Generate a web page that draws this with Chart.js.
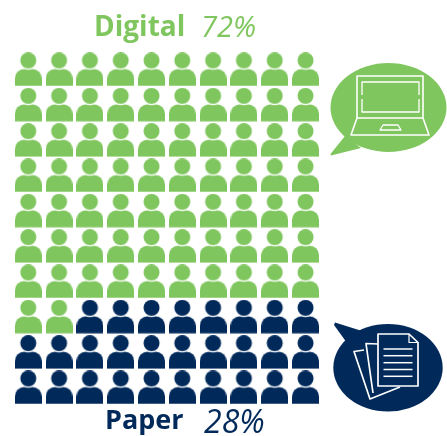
<!DOCTYPE html>
<html lang="en">
<head>
<meta charset="UTF-8">
<title>Digital vs Paper</title>
<script src="https://cdn.jsdelivr.net/npm/chart.js@4/dist/chart.umd.min.js"></script>
<style>
  html, body { margin: 0; padding: 0; background: #fff; overflow: hidden; }
  canvas { display: block; }
</style>
</head>
<body>
<canvas id="chart" width="447" height="436"></canvas>
<script>
// data
const categories = ['Digital', 'Paper'];
const shares = [72, 28];
const colors = ['#80C65F', '#012A5B'];
const columns = 10;

// person icon used as the point style
function personIcon(color) {
  const c = document.createElement('canvas');
  c.width = 27;
  c.height = 34;
  const g = c.getContext('2d');
  g.fillStyle = color;
  g.beginPath();
  g.roundRect(0, 16.5, 27, 17, [9.5, 9.5, 0, 0]);
  g.fill();
  g.globalCompositeOperation = 'destination-out';
  g.beginPath();
  g.arc(13.5, 8, 9.2, 0, Math.PI * 2);
  g.fill();
  g.globalCompositeOperation = 'source-over';
  g.beginPath();
  g.arc(13.5, 8, 8, 0, Math.PI * 2);
  g.fill();
  return c;
}

// fill the grid row by row, top left first
function gridPoints() {
  const sets = [[], []];
  let n = 0;
  shares.forEach((share, s) => {
    for (let i = 0; i < share; i++) {
      sets[s].push({ x: n % columns, y: Math.floor(n / columns) });
      n++;
    }
  });
  return sets;
}

function path(ctx, pts, close) {
  ctx.beginPath();
  pts.forEach((p, i) => i ? ctx.lineTo(p[0], p[1]) : ctx.moveTo(p[0], p[1]));
  if (close) ctx.closePath();
}

function drawLaptop(ctx) {
  ctx.fillStyle = colors[0];
  ctx.beginPath();
  ctx.ellipse(388.5, 107.5, 58, 44.5, 0, 0, Math.PI * 2);
  ctx.fill();
  path(ctx, [[345, 136], [330.5, 154], [331, 155.5], [361, 148]], true);
  ctx.fill();

  ctx.strokeStyle = '#fff';
  ctx.lineJoin = 'round';
  ctx.lineWidth = 1.6;
  path(ctx, [[357, 118], [357, 76], [423, 76], [423, 118]]);
  ctx.stroke();
  ctx.lineWidth = 1.3;
  path(ctx, [[362, 95], [362, 82], [419, 82], [419, 95]]);
  ctx.stroke();
  path(ctx, [[362, 99], [362, 112], [419, 112], [419, 99]]);
  ctx.stroke();
  ctx.lineWidth = 1.6;
  path(ctx, [[357, 118], [423, 118], [429, 135], [351, 135]], true);
  ctx.stroke();
  ctx.lineWidth = 1.3;
  path(ctx, [[380, 130], [383, 125], [398, 125], [401, 130]], true);
  ctx.stroke();
}

function drawPapers(ctx) {
  ctx.fillStyle = colors[1];
  ctx.beginPath();
  ctx.ellipse(388, 367.8, 54.7, 43.8, 0, 0, Math.PI * 2);
  ctx.fill();
  path(ctx, [[347, 343], [334, 325], [335, 322.5], [362, 331]], true);
  ctx.fill();

  ctx.strokeStyle = '#fff';
  ctx.lineJoin = 'round';
  ctx.lineWidth = 1.7;
  // back sheets
  path(ctx, [[364, 350], [354, 351.5], [370, 399], [400, 387]]);
  ctx.stroke();
  path(ctx, [[378, 344], [366, 343.5], [373, 393]]);
  ctx.stroke();
  // front sheet
  path(ctx, [[378, 334], [409, 334], [418, 342.5], [418, 386], [378, 386]], true);
  ctx.stroke();
  path(ctx, [[409, 334], [409, 342.5], [418, 342.5]]);
  ctx.lineWidth = 1.2;
  ctx.stroke();
  ctx.lineWidth = 1.5;
  [349, 355.7, 362.7, 369.5, 376.3].forEach(y => {
    path(ctx, [[383.5, y], [412.5, y]]);
    ctx.stroke();
  });
}

// headings and the two speech bubbles
const extras = {
  id: 'extras',
  afterDatasetsDraw(chart) {
    const ctx = chart.ctx;
    ctx.save();
    drawLaptop(ctx);
    drawPapers(ctx);
    ctx.textBaseline = 'alphabetic';
    ctx.fillStyle = colors[0];
    ctx.font = 'bold 28px "Open Sans"';
    ctx.fillText(categories[0], 94, 36);
    ctx.font = 'italic 400 29px "Open Sans"';
    ctx.fillText(shares[0] + '%', 201, 37);
    ctx.fillStyle = colors[1];
    ctx.font = 'bold 27px "Open Sans"';
    ctx.fillText(categories[1], 105, 429);
    ctx.font = 'italic 400 32px "Open Sans"';
    ctx.fillText(shares[1] + '%', 204, 433);
    ctx.restore();
  }
};

const points = gridPoints();
new Chart(document.getElementById('chart').getContext('2d'), {
  type: 'scatter',
  data: {
    datasets: categories.map((name, i) => ({
      label: name,
      data: points[i],
      pointStyle: personIcon(colors[i]),
      pointRadius: 14
    }))
  },
  options: {
    responsive: false,
    animation: false,
    events: [],
    layout: { padding: 0, autoPadding: false },
    plugins: { legend: { display: false }, tooltip: { enabled: false }, title: { display: false } },
    scales: {
      x: { display: false, min: -0.919, max: 13.594 },
      y: { display: false, reverse: true, min: -1.967, max: 10.374 }
    }
  },
  plugins: [extras]
});
</script>
</body>
</html>
